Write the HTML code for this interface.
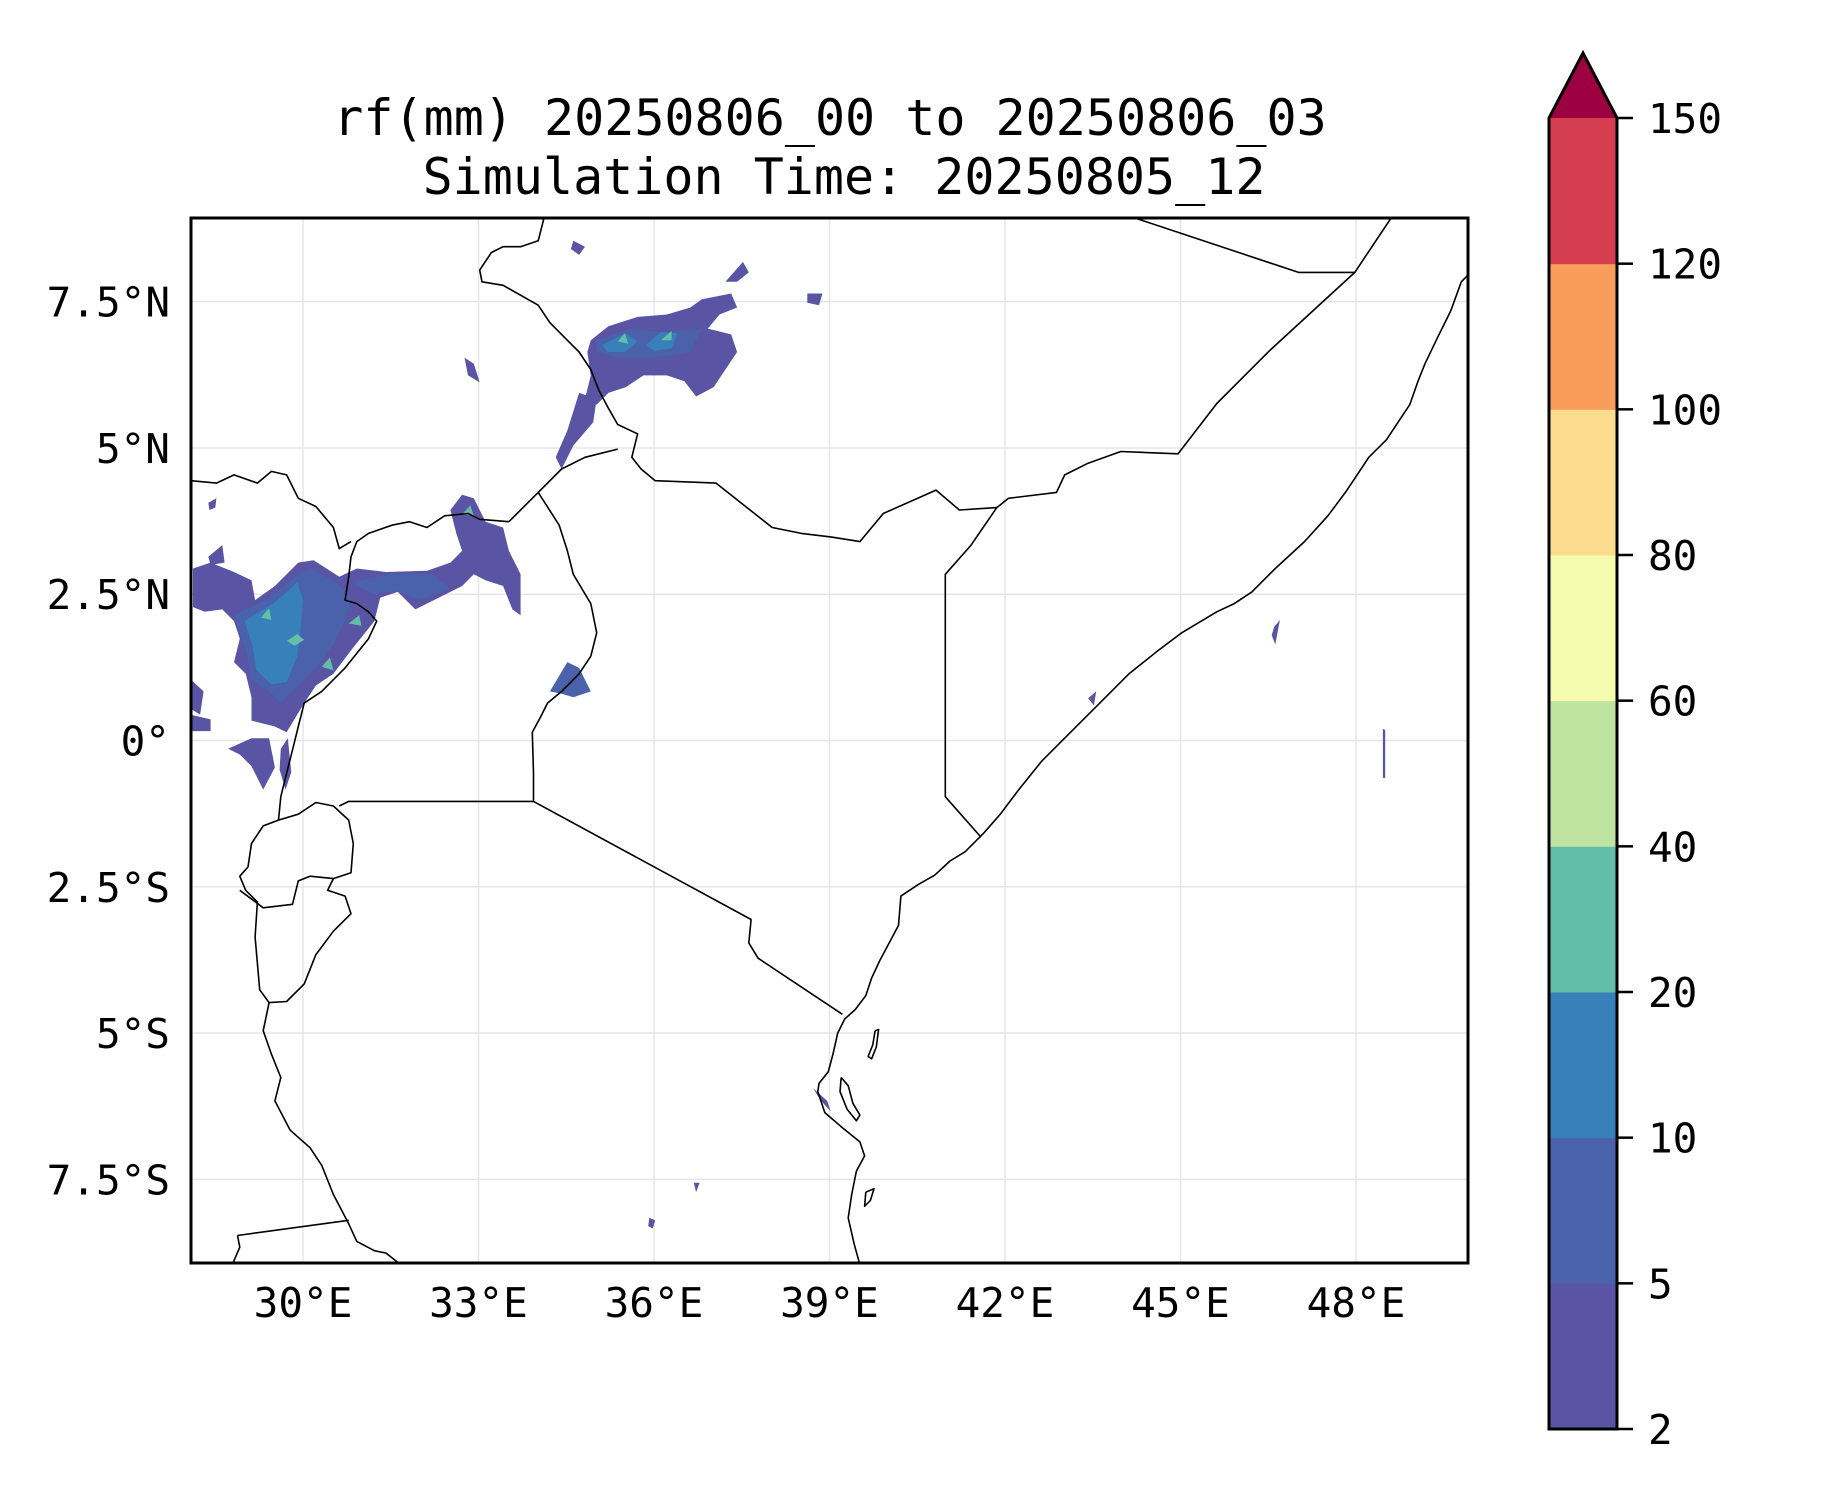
<!DOCTYPE html>
<html><head><meta charset="utf-8"><style>
body{margin:0;background:#fff}
svg{display:block}
text{font-family:"DejaVu Sans Mono","Liberation Mono",monospace;fill:#000}
</style></head><body>
<svg id="fig" width="1833" height="1500" viewBox="0 0 1833 1500">
<rect width="1833" height="1500" fill="#fff"/>
<text x="830" y="135" font-size="50" text-anchor="middle">rf(mm) 20250806_00 to 20250806_03</text>
<text x="844" y="194" font-size="50" text-anchor="middle">Simulation Time: 20250805_12</text>
<defs><clipPath id="axclip"><rect x="191" y="218" width="1277" height="1045"/></clipPath></defs>
<g id="grid"></g>
<g id="rain" clip-path="url(#axclip)"></g>
<g id="geo" clip-path="url(#axclip)"></g>
<rect x="191" y="218" width="1277" height="1045" fill="none" stroke="#000" stroke-width="3"/>
<g id="ticks"></g>
<g id="cbar"></g>
</svg>
<script>
const NS='http://www.w3.org/2000/svg';
const lonMin=28.085, lonMax=49.915, latMin=-8.93, latMax=8.93;
const X0=191, X1=1468, Y0=218, Y1=1263;
const lonTicks=[30,33,36,39,42,45,48];
const lonLabels=['30°E','33°E','36°E','39°E','42°E','45°E','48°E'];
const latTicks=[7.5,5,2.5,0,-2.5,-5,-7.5];
const latLabels=['7.5°N','5°N','2.5°N','0°','2.5°S','5°S','7.5°S'];
const cbLevels=[2,5,10,20,40,60,80,100,120,150];
const cbColors=['#5954a4','#4a61ab','#3880b9','#62bda9','#bfe3a0','#f4fbaf','#fcdd8f','#f99c5a','#d53e4f'];
const cbExtend='#9e0142';

function px(lon){return X0+(lon-lonMin)/(lonMax-lonMin)*(X1-X0);}
function py(lat){return Y0+(latMax-lat)/(latMax-latMin)*(Y1-Y0);}
function el(t,a,p){const e=document.createElementNS(NS,t);for(const k in a)e.setAttribute(k,a[k]);p.appendChild(e);return e;}

const coastEast=[[49.96,8.0],[49.8,7.84],[49.62,7.34],[49.4,6.9],[49.18,6.44],[49.06,6.14],[48.92,5.74],[48.72,5.44],[48.52,5.14],[48.22,4.84],[48.02,4.54],[47.82,4.24],[47.52,3.84],[47.12,3.4],[46.62,2.94],[46.22,2.54],[45.92,2.34],[45.62,2.2],[45.02,1.84],[44.62,1.54],[44.12,1.14],[43.62,0.64],[43.12,0.14],[42.62,-0.36],[42.22,-0.86],[41.92,-1.26],[41.62,-1.6],[41.32,-1.9],[41.06,-2.06],[40.8,-2.3],[40.52,-2.46],[40.22,-2.66],[40.18,-3.16],[40.02,-3.46],[39.86,-3.76],[39.72,-4.06],[39.62,-4.36],[39.44,-4.6],[39.26,-4.76],[39.14,-5.0],[39.06,-5.36],[38.98,-5.66],[38.82,-5.86],[38.8,-6.0],[38.92,-6.36],[39.2,-6.6],[39.52,-6.86],[39.6,-7.1],[39.46,-7.36],[39.38,-7.76],[39.32,-8.16],[39.42,-8.6],[39.52,-8.96]];
const somaliN=[[44.22,8.93],[47.02,8.0],[47.98,8.0],[48.6,8.93]];
const ethSomalia=[[47.98,8.0],[46.52,6.66],[45.62,5.76],[44.96,4.9],[43.98,4.94],[43.42,4.74],[43.02,4.54],[42.88,4.24],[42.06,4.14],[41.86,3.98]];
const kenSomalia=[[41.86,3.98],[41.42,3.34],[40.98,2.84],[40.98,-0.96],[41.58,-1.64]];
const kenEth=[[41.86,3.98],[41.22,3.94],[40.82,4.28],[39.92,3.88],[39.52,3.4],[39.02,3.48],[38.52,3.54],[38.02,3.64],[37.06,4.4],[36.02,4.44],[35.78,4.64],[35.62,4.84],[35.72,5.24],[35.38,5.4],[35.22,5.68],[35.06,5.98],[34.92,6.34],[34.72,6.64],[34.52,6.84],[34.22,7.14],[34.02,7.44],[33.42,7.78],[33.06,7.84],[33.02,8.04],[33.22,8.34],[33.42,8.44],[33.72,8.44],[34.02,8.54],[34.12,8.93]];
const ilemi=[[35.38,4.98],[34.82,4.84],[34.42,4.64],[34.02,4.24],[33.52,3.74]];
const ugKenya=[[34.02,4.24],[34.38,3.68],[34.52,3.24],[34.62,2.84],[34.92,2.34],[35.02,1.84],[34.92,1.44],[34.72,1.14],[34.42,0.84],[34.18,0.64],[34.06,0.4],[33.92,0.14],[33.94,-0.56],[33.94,-1.04]];
const lakeLine=[[33.94,-1.04],[30.78,-1.04],[30.62,-1.12]];
const kenTanz=[[33.94,-1.04],[37.66,-3.06],[37.62,-3.46],[37.78,-3.72],[39.22,-4.68]];
const ugSudanDrc=[[33.52,3.74],[33.02,3.78],[32.82,3.88],[32.42,3.84],[32.12,3.64],[31.82,3.74],[31.52,3.68],[31.12,3.54],[30.92,3.4],[30.82,3.14],[30.78,2.8],[30.72,2.4],[30.92,2.34],[31.12,2.2],[31.26,2.04],[31.12,1.74],[30.72,1.24],[30.32,0.84],[30.02,0.64],[29.92,0.24],[29.82,-0.16],[29.72,-0.56],[29.62,-0.96],[29.58,-1.36]];
const sudDrc=[[28.085,4.44],[28.52,4.4],[28.82,4.54],[29.22,4.4],[29.46,4.6],[29.72,4.54],[29.92,4.14],[30.22,4.0],[30.52,3.64],[30.62,3.28],[30.82,3.4]];
const rwBuCirc=[[29.58,-1.36],[29.92,-1.26],[30.22,-1.06],[30.52,-1.12],[30.78,-1.36],[30.86,-1.76],[30.82,-2.26],[30.52,-2.36],[30.42,-2.56],[30.72,-2.66],[30.82,-2.96],[30.52,-3.26],[30.22,-3.66],[30.02,-4.16],[29.72,-4.46],[29.42,-4.48],[29.26,-4.26],[29.18,-3.36],[29.22,-2.76],[29.02,-2.56],[28.92,-2.32],[29.06,-2.16],[29.12,-1.76],[29.32,-1.46],[29.58,-1.36]];
const rwBu=[[28.92,-2.56],[29.32,-2.86],[29.82,-2.8],[29.92,-2.4],[30.12,-2.32],[30.52,-2.36]];
const tangCoast=[[29.42,-4.48],[29.32,-4.96],[29.46,-5.36],[29.62,-5.76],[29.52,-6.16],[29.78,-6.66],[30.12,-6.96],[30.32,-7.26],[30.52,-7.76],[30.78,-8.26],[30.92,-8.56],[31.22,-8.72],[31.42,-8.76],[31.62,-8.92],[31.92,-8.98]];
const zambia=[[28.88,-8.46],[30.78,-8.2]];
const zambia2=[[28.88,-8.46],[28.92,-8.66],[28.78,-8.98]];
const pemba=[[39.78,-4.96],[39.84,-4.94],[39.8,-5.24],[39.72,-5.44],[39.66,-5.4],[39.74,-5.2],[39.78,-4.96]];
const zanzibar=[[39.2,-5.76],[39.32,-5.9],[39.4,-6.2],[39.52,-6.4],[39.46,-6.5],[39.3,-6.3],[39.18,-6.0],[39.2,-5.76]];
const mafia=[[39.62,-7.72],[39.76,-7.66],[39.7,-7.86],[39.6,-7.96],[39.62,-7.72]];
const geoLines=[coastEast,somaliN,ethSomalia,kenSomalia,kenEth,ilemi,ugKenya,lakeLine,kenTanz,ugSudanDrc,sudDrc,rwBuCirc,rwBu,tangCoast,zambia,zambia2,pemba,zanzibar,mafia];

const rainEth1=[[34.92,6.84],[35.22,7.08],[35.72,7.24],[36.22,7.28],[36.62,7.4],[36.82,7.54],[37.32,7.64],[37.42,7.4],[37.12,7.28],[36.92,7.04],[37.32,6.94],[37.42,6.64],[37.22,6.34],[37.02,6.04],[36.72,5.88],[36.52,6.14],[36.22,6.24],[35.82,6.24],[35.52,6.04],[35.22,5.94],[35.02,5.74],[34.82,5.84],[34.92,6.24],[34.86,6.64]];
const rainEth2=[[35.02,6.84],[35.62,7.04],[36.12,6.98],[36.82,7.04],[36.62,6.64],[36.02,6.54],[35.42,6.54],[35.02,6.64]];
const rainEthB1=[[35.12,6.76],[35.5,6.96],[35.72,6.82],[35.5,6.64],[35.2,6.64]];
const rainEthB2=[[35.86,6.76],[36.12,6.98],[36.4,6.96],[36.3,6.7],[36.0,6.66]];
const rainEth3a=[[35.38,6.82],[35.5,6.96],[35.56,6.78]];
const rainEth3b=[[36.12,6.84],[36.3,7.0],[36.3,6.84]];
const rainEthS=[[34.72,5.94],[35.02,5.84],[34.96,5.44],[34.62,5.04],[34.42,4.64],[34.32,4.84],[34.52,5.3]];
const rainDrc1=[[28.12,2.94],[28.42,3.04],[28.82,2.88],[29.12,2.74],[29.18,2.4],[29.52,2.64],[29.92,3.04],[30.18,3.08],[30.62,2.8],[30.92,2.94],[31.42,2.88],[32.12,2.9],[32.52,3.04],[32.72,3.24],[32.62,3.54],[32.52,3.94],[32.72,4.2],[32.92,4.14],[33.12,3.74],[33.42,3.64],[33.52,3.24],[33.72,2.84],[33.72,2.14],[33.58,2.24],[33.42,2.64],[33.12,2.74],[32.92,2.84],[32.72,2.64],[32.32,2.44],[31.92,2.24],[31.62,2.54],[31.32,2.44],[31.22,2.04],[30.82,1.54],[30.52,1.14],[30.22,0.94],[30.02,0.64],[29.72,0.14],[29.52,0.24],[29.12,0.34],[29.12,0.74],[29.02,1.14],[28.82,1.34],[28.92,1.74],[28.82,2.04],[28.62,2.24],[28.32,2.2],[28.12,2.28]];
const rainDrc2=[[28.82,2.14],[29.42,2.44],[29.92,2.84],[30.12,2.94],[30.52,2.74],[30.82,2.44],[30.72,2.04],[30.52,1.64],[30.22,1.24],[29.92,0.94],[29.62,0.64],[29.42,0.84],[29.12,1.04],[29.02,1.54],[28.92,1.84]];
const rainDrc3=[[29.0,2.04],[29.52,2.36],[29.9,2.7],[30.0,2.4],[29.96,1.9],[29.9,1.44],[29.72,1.0],[29.46,0.96],[29.2,1.2],[29.14,1.6]];
const rainDrcE=[[30.82,2.7],[31.52,2.86],[32.22,2.84],[32.5,2.6],[32.0,2.4],[31.6,2.56],[31.2,2.5]];
const rainT1=[[29.72,1.7],[29.9,1.82],[30.02,1.72],[29.86,1.62]];
const rainT2=[[29.28,2.1],[29.42,2.26],[29.46,2.06]];
const rainT3=[[30.32,1.26],[30.46,1.42],[30.52,1.2]];
const rainT4=[[30.78,2.0],[30.96,2.14],[31.0,1.96]];
const rainT5=[[32.72,3.86],[32.86,4.02],[32.92,3.84]];
const rainKen=[[34.22,0.84],[34.52,1.34],[34.72,1.24],[34.92,0.84],[34.62,0.74],[34.42,0.8]];
const rainW1=[[28.085,1.04],[28.3,0.84],[28.24,0.44],[28.085,0.54]];
const rainW2=[[28.72,-0.14],[29.12,0.04],[29.42,0.04],[29.52,-0.46],[29.32,-0.84],[29.12,-0.44],[28.92,-0.24]];
const rainW3=[[29.62,-0.14],[29.74,0.04],[29.8,-0.54],[29.7,-0.84],[29.6,-0.5]];
const rainW4=[[28.085,0.44],[28.42,0.36],[28.42,0.16],[28.085,0.16]];
const rainN1=[[32.76,6.54],[32.92,6.44],[33.02,6.12],[32.82,6.24]];
const rainN2=[[34.62,8.54],[34.82,8.44],[34.72,8.3],[34.58,8.4]];
const rainN3=[[37.22,7.84],[37.52,8.18],[37.62,8.0],[37.42,7.84]];
const rainN4=[[38.62,7.64],[38.88,7.64],[38.82,7.44],[38.62,7.48]];
const rainS1=[[38.72,-5.94],[38.96,-6.16],[39.02,-6.34],[38.84,-6.14]];
const rainS2=[[46.6,1.94],[46.7,2.06],[46.62,1.64],[46.56,1.8]];
const rainS3=[[48.46,0.2],[48.5,0.18],[48.5,-0.64],[48.46,-0.64]];
const rainS4=[[43.42,0.72],[43.56,0.84],[43.52,0.6]];
const rainS5=[[35.92,-8.16],[36.02,-8.2],[35.98,-8.34],[35.9,-8.3]];
const rainS6=[[36.68,-7.56],[36.78,-7.56],[36.72,-7.72]];
const rainS7=[[28.38,3.14],[28.62,3.34],[28.66,3.04],[28.42,3.0]];
const rainS8=[[28.38,4.06],[28.52,4.14],[28.5,3.98],[28.4,3.94]];
const rainShapes=[rainEth1,rainEth2,rainEthB1,rainEthB2,rainEth3a,rainEth3b,rainEthS,rainDrc1,rainDrc2,rainDrc3,rainDrcE,rainT1,rainT2,rainT3,rainT4,rainT5,rainKen,rainW1,rainW2,rainW3,rainW4,rainN1,rainN2,rainN3,rainN4,rainS1,rainS2,rainS3,rainS4,rainS5,rainS6,rainS7,rainS8];
const rainLevels=[0,1,2,2,3,3,0,0,1,2,1,3,3,3,3,3,1,0,0,0,0,0,0,0,0,0,0,0,0,0,0,0,0];

function pts(a){return a.map(p=>px(p[0]).toFixed(1)+','+py(p[1]).toFixed(1)).join(' ');}

const grid=document.getElementById('grid');
lonTicks.forEach((v,i)=>{
  const l=el('line',{x1:px(v),x2:px(v),y1:Y0,y2:Y1,stroke:'#e6e6e6','stroke-width':1.5},grid);
  
  
});
latTicks.forEach((v,i)=>{
  const l=el('line',{x1:X0,x2:X1,y1:py(v),y2:py(v),stroke:'#e6e6e6','stroke-width':1.5},grid);
  
  
});

const rain=document.getElementById('rain');
rainShapes.forEach((s,i)=>{
  const p=el('polygon',{points:pts(s),fill:cbColors[rainLevels[i]],'stroke-linejoin':'round'},rain);
  
  
});

const geo=document.getElementById('geo');
geoLines.forEach(g=>{
  const p=el('polyline',{points:pts(g),fill:'none',stroke:'#000','stroke-width':1.6,'stroke-linejoin':'round'},geo);
  
  
});

const tk=document.getElementById('ticks');
lonTicks.forEach((v,i)=>{
  const t=el('text',{x:px(v),y:1317,'font-size':41,'text-anchor':'middle'},tk);
  t.textContent=lonLabels[i];
  
  
});
latTicks.forEach((v,i)=>{
  const t=el('text',{x:170,y:py(v)+15,'font-size':41,'text-anchor':'end'},tk);
  t.textContent=latLabels[i];
  
  
});

const cb=document.getElementById('cbar');
const CX0=1549,CX1=1617,CT=118,CB=1429,CA=53;
const nb=cbLevels.length-1, bh=(CB-CT)/nb;
function cy(i){return CB-i*bh;}
for(let i=0;i<nb;i++){
  const r=el('rect',{x:CX0,y:cy(i+1),width:CX1-CX0,height:bh+0.5,fill:cbColors[i]},cb);
  
  
}
const tri=el('polygon',{points:CX0+','+CT+' '+(CX0+CX1)/2+','+CA+' '+CX1+','+CT,fill:cbExtend},cb);


const outline=el('polygon',{points:CX0+','+CB+' '+CX0+','+CT+' '+(CX0+CX1)/2+','+CA+' '+CX1+','+CT+' '+CX1+','+CB,fill:'none',stroke:'#000','stroke-width':3},cb);


cbLevels.forEach((v,i)=>{
  const l=el('line',{x1:CX1,x2:CX1+16,y1:cy(i),y2:cy(i),stroke:'#000','stroke-width':2.5},cb);
  
  
  const t=el('text',{x:1648,y:cy(i)+15,'font-size':41},cb);
  t.textContent=String(v);
  
  
});
</script>
</body></html>
